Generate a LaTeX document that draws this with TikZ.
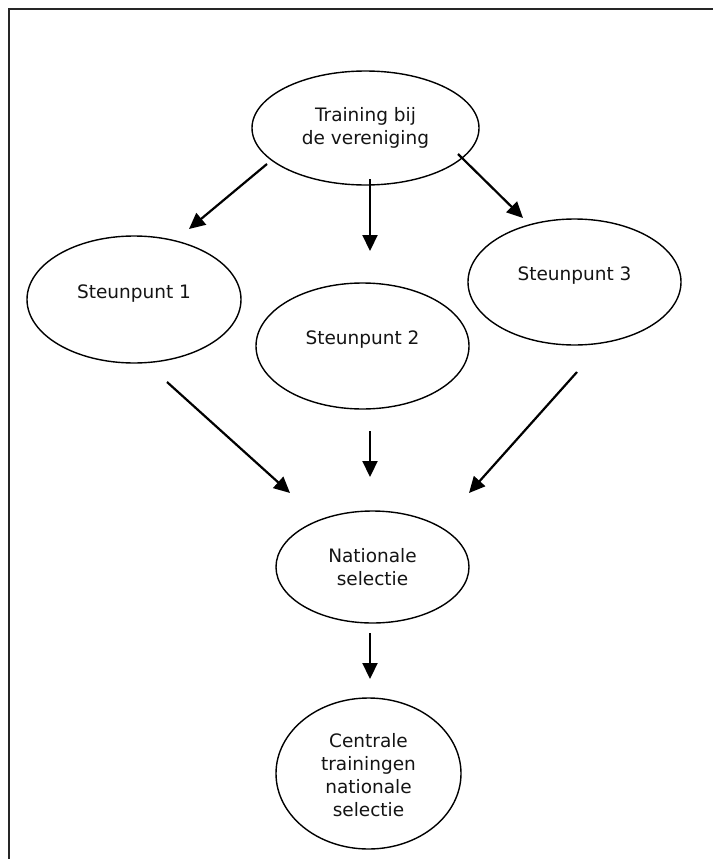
\documentclass[tikz,border=0pt]{standalone}
\usepackage{fontspec}
\setmainfont{DejaVu Sans}
\usetikzlibrary{shapes.geometric,arrows.meta}
\tikzset{
  oval/.style={draw, ellipse, line width=1.4pt, inner sep=0pt},
  txt/.style={font=\fontsize{18.5}{23}\selectfont, align=center, text=black!92, inner sep=0pt},
  arr/.style={line width=2.2pt, -{Triangle[length=16pt,width=15pt]}},
  frame/.style={line width=2.2pt, draw=black!85}
}
\begin{document}
\begin{tikzpicture}[x=1pt,y=-1pt]
\useasboundingbox (0,0) rectangle (713,859);
% frame (top and left edges)
\coordinate (fa) at (8.8,859);
\coordinate (fb) at (8.8,8.8);
\coordinate (fc) at (713,8.8);
\draw[frame] (fa) -- (fb) -- (fc);

% nodes
\node[oval, minimum width=227pt, minimum height=114pt, label={[txt]center:{Training bij\\de vereniging}}] (tr) at (365.5,128) {};
\node[oval, minimum width=214pt, minimum height=127pt, label={[txt,yshift=6pt]center:{Steunpunt 1}}] (s1) at (134,299.5) {};
\node[oval, minimum width=213pt, minimum height=126pt, label={[txt,yshift=6pt]center:{Steunpunt 2}}] (s2) at (362.5,346) {};
\node[oval, minimum width=213pt, minimum height=126pt, label={[txt,yshift=6pt]center:{Steunpunt 3}}] (s3) at (574.5,282) {};
\node[oval, minimum width=193pt, minimum height=112pt, label={[txt]center:{Nationale\\selectie}}] (ns) at (372.5,567) {};
\node[oval, minimum width=185pt, minimum height=151pt, label={[txt,yshift=-2pt]center:{Centrale\\trainingen\\nationale\\selectie}}] (ct) at (368.5,773.5) {};

% arrow end points (arrows stand free of the ovals)
\coordinate (a1s) at (267,164);  \coordinate (a1e) at (189,229);
\coordinate (a2s) at (370,179);  \coordinate (a2e) at (370,251);
\coordinate (a3s) at (458,154);  \coordinate (a3e) at (523,218);
\coordinate (b1s) at (167,382);  \coordinate (b1e) at (290,493);
\coordinate (b2s) at (370,431);  \coordinate (b2e) at (370,477);
\coordinate (b3s) at (577,372);  \coordinate (b3e) at (469,493);
\coordinate (c1s) at (370,633);  \coordinate (c1e) at (370,679);

\draw[arr] (a1s) -- (a1e);
\draw[arr] (a2s) -- (a2e);
\draw[arr] (a3s) -- (a3e);
\draw[arr] (b1s) -- (b1e);
\draw[arr] (b2s) -- (b2e);
\draw[arr] (b3s) -- (b3e);
\draw[arr] (c1s) -- (c1e);
\end{tikzpicture}
\end{document}
